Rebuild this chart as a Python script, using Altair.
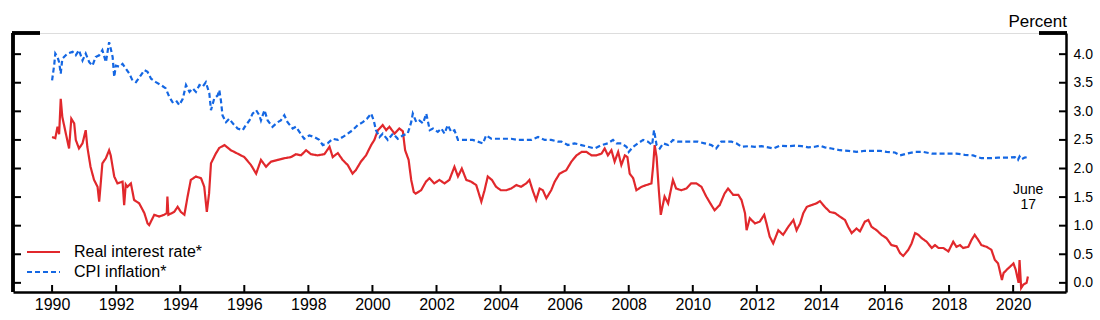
import altair as alt
import pandas as pd

# ---------------- data ----------------
real_years = [1990.0, 1990.1, 1990.17, 1990.22, 1990.27, 1990.32, 1990.43, 1990.53, 1990.6, 1990.69,
              1990.74, 1990.84, 1990.95, 1991.05, 1991.1, 1991.2, 1991.31, 1991.42, 1991.47, 1991.52,
              1991.57, 1991.68, 1991.78, 1991.83, 1991.94, 1992.04, 1992.2, 1992.25, 1992.3, 1992.35,
              1992.46, 1992.56, 1992.72, 1992.88, 1992.98, 1993.03, 1993.19, 1993.34, 1993.5, 1993.58,
              1993.6, 1993.63, 1993.81, 1993.92, 1994.02, 1994.13, 1994.23, 1994.33, 1994.49, 1994.65,
              1994.75, 1994.83, 1994.9, 1994.96, 1995.11, 1995.22, 1995.38, 1995.58, 1995.79, 1996.0,
              1996.21, 1996.37, 1996.52, 1996.68, 1996.83, 1997.04, 1997.25, 1997.46, 1997.61, 1997.77,
              1997.93, 1998.08, 1998.29, 1998.5, 1998.66, 1998.76, 1998.92, 1999.07, 1999.23, 1999.38,
              1999.48, 1999.64, 1999.8, 1999.96, 2000.06, 2000.17, 2000.32, 2000.43, 2000.53, 2000.69,
              2000.84, 2000.95, 2001.02, 2001.13, 2001.21, 2001.29, 2001.35, 2001.52, 2001.67, 2001.78,
              2001.93, 2002.09, 2002.25, 2002.4, 2002.56, 2002.67, 2002.79, 2002.93, 2003.08, 2003.24,
              2003.4, 2003.5, 2003.6, 2003.73, 2003.86, 2004.01, 2004.18, 2004.33, 2004.49, 2004.64,
              2004.8, 2004.9, 2005.0, 2005.11, 2005.22, 2005.32, 2005.43, 2005.58, 2005.69, 2005.84,
              2006.05, 2006.21, 2006.37, 2006.53, 2006.68, 2006.84, 2006.99, 2007.15, 2007.25, 2007.35,
              2007.46, 2007.56, 2007.67, 2007.77, 2007.88, 2007.96, 2008.03, 2008.14, 2008.24, 2008.4,
              2008.55, 2008.71, 2008.76, 2008.81, 2008.87, 2008.94, 2009.0, 2009.12, 2009.23, 2009.38,
              2009.48, 2009.64, 2009.8, 2009.95, 2010.11, 2010.27, 2010.42, 2010.58, 2010.68, 2010.84,
              2010.99, 2011.1, 2011.26, 2011.42, 2011.52, 2011.63, 2011.68, 2011.78, 2011.94, 2012.09,
              2012.23, 2012.3, 2012.4, 2012.51, 2012.67, 2012.82, 2012.98, 2013.14, 2013.24, 2013.35,
              2013.45, 2013.56, 2013.71, 2013.86, 2013.97, 2014.12, 2014.28, 2014.44, 2014.59, 2014.75,
              2014.85, 2014.96, 2015.11, 2015.22, 2015.37, 2015.48, 2015.58, 2015.74, 2015.89, 2016.05,
              2016.2, 2016.36, 2016.47, 2016.57, 2016.73, 2016.83, 2016.94, 2017.04, 2017.15, 2017.3,
              2017.46, 2017.56, 2017.67, 2017.82, 2017.98, 2018.13, 2018.23, 2018.34, 2018.44, 2018.6,
              2018.7, 2018.8, 2018.91, 2019.01, 2019.17, 2019.32, 2019.43, 2019.53, 2019.65, 2019.7,
              2019.8, 2019.9, 2020.01, 2020.08, 2020.17, 2020.2, 2020.25, 2020.32, 2020.42, 2020.46]
real_rate = [2.55, 2.53, 2.73, 2.60, 3.22, 2.90, 2.61, 2.35, 2.87, 2.79,
             2.50, 2.35, 2.44, 2.67, 2.38, 2.03, 1.80, 1.68, 1.42, 1.75,
             2.09, 2.18, 2.32, 2.23, 1.86, 1.74, 1.77, 1.36, 1.72, 1.68,
             1.74, 1.45, 1.39, 1.22, 1.04, 1.01, 1.19, 1.16, 1.19, 1.22,
             1.51, 1.19, 1.24, 1.33, 1.24, 1.19, 1.51, 1.80, 1.86, 1.83,
             1.68, 1.24, 1.56, 2.09, 2.26, 2.36, 2.41, 2.32, 2.26, 2.20,
             2.06, 1.91, 2.15, 2.03, 2.12, 2.15, 2.18, 2.20, 2.25, 2.23,
             2.32, 2.25, 2.23, 2.25, 2.38, 2.20, 2.27, 2.15, 2.06, 1.91,
             1.97, 2.12, 2.23, 2.41, 2.50, 2.67, 2.76, 2.67, 2.73, 2.61,
             2.70, 2.65, 2.32, 2.15, 1.80, 1.59, 1.56, 1.62, 1.77, 1.83,
             1.74, 1.80, 1.74, 1.80, 2.03, 1.86, 2.00, 1.80, 1.77, 1.71,
             1.42, 1.62, 1.86, 1.80, 1.68, 1.62, 1.62, 1.65, 1.71, 1.68,
             1.74, 1.80, 1.62, 1.45, 1.65, 1.62, 1.48, 1.62, 1.77, 1.91,
             1.97, 2.12, 2.23, 2.29, 2.29, 2.23, 2.23, 2.26, 2.35, 2.23,
             2.32, 2.12, 2.29, 2.06, 2.23, 2.20, 1.91, 1.83, 1.62, 1.68,
             1.71, 1.74, 2.03, 2.41, 2.20, 1.62, 1.19, 1.51, 1.39, 1.80,
             1.65, 1.62, 1.65, 1.74, 1.74, 1.68, 1.51, 1.36, 1.27, 1.36,
             1.56, 1.65, 1.54, 1.54, 1.45, 1.22, 0.92, 1.13, 1.04, 1.07,
             1.19, 1.04, 0.81, 0.69, 0.92, 0.84, 0.98, 1.10, 0.92, 1.04,
             1.22, 1.33, 1.36, 1.39, 1.43, 1.33, 1.24, 1.22, 1.16, 1.10,
             0.98, 0.87, 0.95, 0.90, 1.07, 1.10, 0.98, 0.92, 0.84, 0.78,
             0.66, 0.64, 0.52, 0.47, 0.58, 0.69, 0.87, 0.84, 0.78, 0.72,
             0.61, 0.66, 0.61, 0.61, 0.55, 0.72, 0.63, 0.66, 0.61, 0.63,
             0.75, 0.84, 0.75, 0.66, 0.63, 0.58, 0.40, 0.34, 0.05, 0.17,
             0.23, 0.28, 0.34, 0.23, 0.00, 0.40, -0.09, -0.03, 0.00, 0.11]

cpi_years = [1990.0, 1990.07, 1990.1, 1990.17, 1990.22, 1990.27, 1990.32, 1990.48, 1990.64, 1990.74,
             1990.84, 1990.95, 1991.05, 1991.16, 1991.26, 1991.36, 1991.47, 1991.57, 1991.68, 1991.78,
             1991.83, 1991.89, 1991.94, 1991.99, 1992.1, 1992.2, 1992.3, 1992.41, 1992.51, 1992.62,
             1992.77, 1992.88, 1992.98, 1993.09, 1993.24, 1993.4, 1993.55, 1993.66, 1993.76, 1993.87,
             1993.97, 1994.08, 1994.18, 1994.29, 1994.39, 1994.49, 1994.6, 1994.7, 1994.8, 1994.91,
             1994.96, 1995.06, 1995.17, 1995.22, 1995.27, 1995.32, 1995.43, 1995.53, 1995.64, 1995.79,
             1995.95, 1996.05, 1996.16, 1996.26, 1996.37, 1996.47, 1996.52, 1996.63, 1996.73, 1996.88,
             1997.04, 1997.14, 1997.25, 1997.35, 1997.51, 1997.61, 1997.72, 1997.87, 1998.03, 1998.19,
             1998.34, 1998.45, 1998.6, 1998.76, 1998.92, 1999.07, 1999.23, 1999.38, 1999.54, 1999.7,
             1999.83, 1999.96, 2000.04, 2000.11, 2000.22, 2000.32, 2000.48, 2000.64, 2000.79, 2000.95,
             2001.1, 2001.21, 2001.26, 2001.37, 2001.47, 2001.58, 2001.68, 2001.79, 2001.89, 2002.04,
             2002.15, 2002.25, 2002.35, 2002.46, 2002.56, 2002.67, 2002.82, 2002.98, 2003.13, 2003.29,
             2003.45, 2003.55, 2003.71, 2003.92, 2004.13, 2004.33, 2004.54, 2004.75, 2004.96, 2005.17,
             2005.38, 2005.58, 2005.79, 2005.9, 2006.1, 2006.31, 2006.52, 2006.73, 2006.94, 2007.15,
             2007.35, 2007.51, 2007.62, 2007.77, 2007.93, 2008.0, 2008.14, 2008.29, 2008.45, 2008.6,
             2008.73, 2008.79, 2008.87, 2008.97, 2009.08, 2009.23, 2009.38, 2009.54, 2009.75, 2009.95,
             2010.16, 2010.37, 2010.58, 2010.73, 2010.89, 2011.05, 2011.21, 2011.36, 2011.52, 2011.73,
             2011.94, 2012.15, 2012.35, 2012.51, 2012.72, 2012.98, 2013.19, 2013.4, 2013.6, 2013.81,
             2013.97, 2014.12, 2014.33, 2014.59, 2014.85, 2015.11, 2015.37, 2015.63, 2015.84, 2016.05,
             2016.31, 2016.47, 2016.68, 2016.94, 2017.2, 2017.46, 2017.72, 2017.98, 2018.23, 2018.49,
             2018.75, 2019.01, 2019.27, 2019.53, 2019.84, 2020.05, 2020.15, 2020.2, 2020.26, 2020.36,
             2020.46]
cpi_rate = [3.54, 3.83, 4.01, 3.95, 3.86, 3.66, 3.92, 4.01, 4.04, 3.98,
            4.07, 3.89, 4.01, 3.86, 3.80, 3.95, 3.98, 4.07, 3.86, 4.21,
            4.10, 3.95, 3.60, 3.80, 3.78, 3.83, 3.75, 3.66, 3.54, 3.51,
            3.63, 3.72, 3.69, 3.57, 3.51, 3.46, 3.40, 3.25, 3.16, 3.19,
            3.11, 3.22, 3.46, 3.34, 3.40, 3.34, 3.46, 3.43, 3.51, 3.31,
            3.02, 3.22, 3.28, 3.37, 3.19, 2.93, 2.81, 2.87, 2.79, 2.70,
            2.67, 2.76, 2.84, 2.96, 3.02, 2.93, 2.84, 3.02, 2.84, 2.73,
            2.81, 2.84, 2.93, 2.81, 2.70, 2.73, 2.64, 2.52, 2.58, 2.55,
            2.50, 2.41, 2.44, 2.52, 2.50, 2.55, 2.61, 2.67, 2.76, 2.81,
            2.87, 2.96, 2.84, 2.67, 2.55, 2.61, 2.50, 2.61, 2.52, 2.58,
            2.61, 2.81, 2.96, 2.81, 2.84, 2.79, 2.96, 2.67, 2.70, 2.64,
            2.70, 2.61, 2.76, 2.64, 2.67, 2.50, 2.50, 2.50, 2.50, 2.47,
            2.44, 2.58, 2.52, 2.52, 2.52, 2.52, 2.50, 2.50, 2.50, 2.55,
            2.50, 2.50, 2.47, 2.47, 2.41, 2.44, 2.41, 2.38, 2.35, 2.41,
            2.44, 2.50, 2.44, 2.44, 2.38, 2.29, 2.38, 2.44, 2.50, 2.47,
            2.41, 2.67, 2.41, 2.35, 2.44, 2.41, 2.50, 2.47, 2.47, 2.47,
            2.47, 2.44, 2.41, 2.35, 2.47, 2.47, 2.47, 2.44, 2.38, 2.39,
            2.38, 2.39, 2.37, 2.35, 2.40, 2.39, 2.40, 2.39, 2.37, 2.38,
            2.40, 2.37, 2.35, 2.32, 2.31, 2.29, 2.31, 2.31, 2.31, 2.29,
            2.28, 2.23, 2.26, 2.29, 2.29, 2.26, 2.26, 2.26, 2.26, 2.24,
            2.23, 2.18, 2.18, 2.19, 2.19, 2.20, 2.15, 2.21, 2.16, 2.19,
            2.20]

series_names = ["Real interest rate*", "CPI inflation*"]
series_colors = ["#E1282C", "#1467E3"]
series_dash = [[1, 0], [5, 3]]
legend_rows = [0.54, 0.19]          # vertical position of the legend rows (in axis units)
y_ticks = [0.0, 0.5, 1.0, 1.5, 2.0, 2.5, 3.0, 3.5, 4.0]
x_ticks = list(range(1990, 2021, 2))
note_lines = ["June", "17"]
note_x = 2020.47
note_y = [1.62, 1.36]

W, H = 1053, 259
FONT = "Liberation Sans"

df = pd.concat([
    pd.DataFrame({"year": real_years, "value": real_rate, "series": series_names[0]}),
    pd.DataFrame({"year": cpi_years, "value": cpi_rate, "series": series_names[1]}),
], ignore_index=True)

xs = alt.Scale(domain=[1988.78, 2021.65], nice=False, zero=False)
ys = alt.Scale(domain=[-0.16, 4.37], nice=False, zero=False)
cs = alt.Scale(domain=series_names, range=series_colors)
ds = alt.Scale(domain=series_names, range=series_dash)

x_axis = alt.Axis(values=x_ticks, format="d", ticks=False, tickSize=0, grid=False, title=None,
                  domainColor="black", domainWidth=2.5, labelFontSize=16, labelFont=FONT,
                  labelColor="black", labelPadding=4, labelOverlap=False)
y_axis = alt.Axis(orient="right", values=y_ticks, format=".1f", ticks=False, tickSize=0, grid=False,
                  title=None, domainColor="black", domainWidth=2.5, labelFontSize=14, labelFont=FONT,
                  labelColor="black", labelPadding=7, labelOverlap=False, labelBound=False,
                  labelFlush=False)

lines = alt.Chart(df).mark_line(strokeWidth=2.2).encode(
    x=alt.X("year:Q", scale=xs, axis=x_axis),
    y=alt.Y("value:Q", scale=ys, axis=y_axis),
    color=alt.Color("series:N", scale=cs, legend=None),
    strokeDash=alt.StrokeDash("series:N", scale=ds, legend=None),
)

ytick_df = pd.DataFrame({"v": y_ticks})
xtick_df = pd.DataFrame({"yr": x_ticks})

left_ticks = alt.Chart(ytick_df).mark_rule(color="black", strokeWidth=2).encode(
    y=alt.Y("v:Q", scale=ys, axis=y_axis), x=alt.value(0), x2=alt.value(8))
right_ticks = alt.Chart(ytick_df).mark_rule(color="black", strokeWidth=2).encode(
    y=alt.Y("v:Q", scale=ys, axis=y_axis), x=alt.value(W - 7), x2=alt.value(W))
bottom_ticks = alt.Chart(xtick_df).mark_rule(color="black", strokeWidth=2).encode(
    x=alt.X("yr:Q", scale=xs, axis=x_axis), y=alt.value(H - 7), y2=alt.value(H))

left_line = alt.Chart(ytick_df).mark_rule(color="black", strokeWidth=2.5).encode(
    x=alt.value(0), y=alt.value(0), y2=alt.value(H))
top_left = alt.Chart(ytick_df).mark_rule(color="black", strokeWidth=2.5).encode(
    y=alt.value(0), x=alt.value(-1), x2=alt.value(27))
top_right = alt.Chart(ytick_df).mark_rule(color="black", strokeWidth=2.5).encode(
    y=alt.value(0), x=alt.value(W - 27), x2=alt.value(W + 1))

# legend (inside, bottom-left)
leg_df = pd.DataFrame({"series": series_names, "ly": legend_rows})
leg_lines = alt.Chart(leg_df).mark_rule(strokeWidth=2).encode(
    y=alt.Y("ly:Q", scale=ys, axis=y_axis), x=alt.value(14), x2=alt.value(47),
    color=alt.Color("series:N", scale=cs, legend=None),
    strokeDash=alt.StrokeDash("series:N", scale=ds, legend=None),
)
leg_text = alt.Chart(leg_df).mark_text(
    align="left", baseline="middle", fontSize=16, font=FONT, color="black").encode(
    y=alt.Y("ly:Q", scale=ys, axis=y_axis), x=alt.value(61), text="series:N")

percent = alt.Chart(pd.DataFrame({"t": ["Percent"]})).mark_text(
    align="right", baseline="bottom", fontSize=17, font=FONT, color="black").encode(
    text="t:N", x=alt.value(W + 1), y=alt.value(-2))

note = alt.Chart(pd.DataFrame({"t": note_lines, "x": [note_x] * 2, "y": note_y})).mark_text(
    align="center", baseline="middle", fontSize=14, font=FONT, color="black").encode(
    text="t:N", x=alt.X("x:Q", scale=xs, axis=x_axis), y=alt.Y("y:Q", scale=ys, axis=y_axis))

chart = alt.layer(
    lines, left_ticks, right_ticks, bottom_ticks, left_line, top_left, top_right,
    leg_lines, leg_text, percent, note
).properties(
    width=W, height=H,
    autosize=alt.AutoSizeParams(type="none"),
    padding={"left": 13, "top": 33, "right": 34, "bottom": 28},
).configure_view(stroke=None).configure(font=FONT)

chart.save("out.html", embed_options={"renderer": "svg", "actions": False})
